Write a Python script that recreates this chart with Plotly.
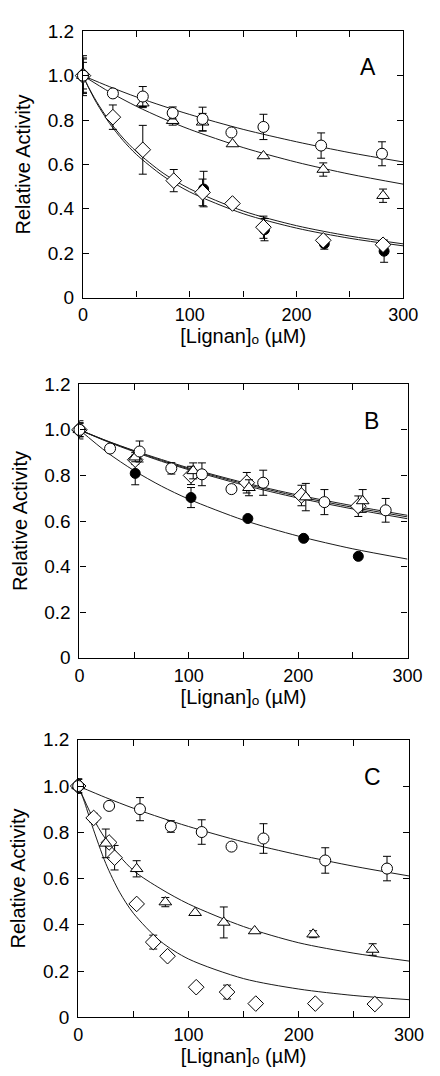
import plotly.graph_objects as go

# ---------------- Panel A data ----------------
a_circ_x = [0, 28, 56, 84, 112, 139, 169, 223, 280]
a_circ_y = [1.0, 0.920, 0.906, 0.832, 0.805, 0.744, 0.769, 0.685, 0.648]
a_circ_e = [0.09, 0, 0.045, 0.027, 0.053, 0, 0.057, 0.057, 0.054]

a_tri_x = [0, 56, 84, 112, 140, 169, 225, 281]
a_tri_y = [1.0, 0.876, 0.797, 0.79, 0.692, 0.638, 0.577, 0.459]
a_tri_e = [0.075, 0.02, 0.02, 0.04, 0, 0, 0.03, 0.03]

a_dia_x = [0, 28, 56, 85, 112, 140, 169, 225, 281]
a_dia_y = [1.0, 0.813, 0.666, 0.527, 0.474, 0.424, 0.317, 0.258, 0.238]
a_dia_e = [0.08, 0.055, 0.11, 0.05, 0.06, 0, 0.05, 0, 0.02]

a_fil_x = [0, 113, 170, 226, 282]
a_fil_y = [1.0, 0.489, 0.306, 0.243, 0.209]
a_fil_e = [0.06, 0.08, 0.05, 0.025, 0.05]

a_fit_x = [0, 25, 50, 75, 100, 150, 200, 250, 300]
a_fit_circ = [1.0, 0.950, 0.904, 0.863, 0.825, 0.758, 0.702, 0.653, 0.611]
a_fit_tri = [1.0, 0.926, 0.862, 0.807, 0.758, 0.676, 0.610, 0.556, 0.511]
a_fit2_x = [0, 5, 12.5, 25, 37.5, 50, 75, 100, 150, 200, 250, 300]
a_fit_dia = [1.0, 0.950, 0.885, 0.793, 0.719, 0.658, 0.561, 0.490, 0.390, 0.324, 0.277, 0.242]
a_fit_fil = [1.0, 0.948, 0.879, 0.784, 0.708, 0.645, 0.548, 0.476, 0.378, 0.313, 0.267, 0.233]

# ---------------- Panel B data ----------------
b_circ_x = [0, 28, 55, 84, 112, 139, 168, 224, 280]
b_circ_y = [1.0, 0.918, 0.905, 0.831, 0.805, 0.740, 0.768, 0.683, 0.647]
b_circ_e = [0.04, 0, 0.046, 0.025, 0.05, 0, 0.055, 0.055, 0.052]

b_fil_x = [0, 51, 102, 154, 205, 255]
b_fil_y = [1.0, 0.809, 0.703, 0.611, 0.524, 0.445]
b_fil_e = [0.03, 0.05, 0.044, 0, 0, 0]

b_tri_x = [0, 51, 104, 155, 207, 259]
b_tri_y = [1.0, 0.88, 0.820, 0.746, 0.705, 0.688]
b_tri_e = [0.03, 0.02, 0.035, 0.035, 0.06, 0.05]

b_dia_x = [0, 51, 102, 153, 203, 255]
b_dia_y = [1.0, 0.869, 0.800, 0.768, 0.712, 0.665]
b_dia_e = [0.03, 0.02, 0.04, 0.045, 0.045, 0.045]

b_fit_x = [0, 25, 50, 75, 100, 150, 200, 250, 300]
b_fit_circ = [1.0, 0.952, 0.909, 0.870, 0.833, 0.769, 0.714, 0.667, 0.625]
b_fit_tri = [1.0, 0.951, 0.907, 0.866, 0.829, 0.764, 0.708, 0.660, 0.618]
b_fit_dia = [1.0, 0.949, 0.904, 0.862, 0.825, 0.758, 0.701, 0.653, 0.610]
b_fit_fil = [1.0, 0.902, 0.821, 0.753, 0.696, 0.604, 0.534, 0.478, 0.433]

# ---------------- Panel C data ----------------
c_circ_x = [0, 28, 56, 84, 112, 139, 168, 224, 280]
c_circ_y = [1.0, 0.914, 0.900, 0.825, 0.801, 0.738, 0.773, 0.678, 0.643]
c_circ_e = [0.03, 0, 0.05, 0.025, 0.053, 0, 0.064, 0.055, 0.053]

c_tri_x = [0, 25, 53, 79, 106, 132, 160, 213, 267]
c_tri_y = [1.0, 0.752, 0.642, 0.498, 0.452, 0.41, 0.373, 0.359, 0.293]
c_tri_e = [0.03, 0.062, 0.035, 0.02, 0, 0.067, 0, 0.015, 0.025]

c_dia_x = [0, 14, 28, 33, 53, 68, 81, 107, 135, 161, 215, 269]
c_dia_y = [1.0, 0.862, 0.756, 0.690, 0.490, 0.325, 0.264, 0.130, 0.109, 0.059, 0.059, 0.057]
c_dia_e = [0.03, 0.02, 0, 0.053, 0, 0.03, 0, 0, 0.03, 0, 0, 0]

c_fit_x = [0, 25, 50, 75, 100, 150, 200, 250, 300]
c_fit_circ = [1.0, 0.950, 0.904, 0.863, 0.825, 0.758, 0.702, 0.653, 0.611]
c_fit2_x = [0, 12.5, 25, 50, 75, 100, 150, 200, 250, 300]
c_fit_tri = [1.0, 0.87, 0.77, 0.635, 0.555, 0.49, 0.392, 0.322, 0.277, 0.243]
c_fit3_x = [0, 5, 12.5, 25, 37.5, 50, 75, 100, 150, 200, 250, 300]
c_fit_dia = [1.0, 0.94, 0.83, 0.665, 0.541, 0.45, 0.327, 0.252, 0.167, 0.122, 0.094, 0.076]

x_ticks = [0, 100, 200, 300]
x_minor_ticks = [50, 150, 250]
y_ticks = [0, 0.2, 0.4, 0.6, 0.8, 1.0, 1.2]
y_ticktext = ["0", "0.2", "0.4", "0.6", "0.8", "1.0", "1.2"]
panel_labels = ["A", "B", "C"]
x_title = "[Lignan]ₒ (µM)"
y_title = "Relative Activity"

FONT = "Liberation Sans, Arial, Helvetica, DejaVu Sans, sans-serif"
fig = go.Figure()

def curve(x, y, ax):
    fig.add_trace(go.Scatter(x=x, y=y, mode="lines",
                             line=dict(color="#1a1a1a", width=1, shape="spline", smoothing=0.8),
                             xaxis="x" + ax, yaxis="y" + ax, hoverinfo="skip", showlegend=False))

def points(x, y, e, symbol, fill, size, ax):
    xe = [a for a, b in zip(x, e) if b > 0]
    ye = [a for a, b in zip(y, e) if b > 0]
    ee = [b for b in e if b > 0]
    xn = [a for a, b in zip(x, e) if b <= 0]
    yn = [a for a, b in zip(y, e) if b <= 0]
    mk = dict(symbol=symbol, size=size, color=fill, line=dict(color="black", width=1))
    if xe:
        fig.add_trace(go.Scatter(x=xe, y=ye, mode="markers", marker=mk, cliponaxis=False,
                                 error_y=dict(type="data", array=ee, color="black", thickness=1, width=4),
                                 xaxis="x" + ax, yaxis="y" + ax, showlegend=False))
    if xn:
        fig.add_trace(go.Scatter(x=xn, y=yn, mode="markers", marker=mk, cliponaxis=False,
                                 xaxis="x" + ax, yaxis="y" + ax, showlegend=False))

# Panel A (axis suffix "")
for y in [a_fit_circ, a_fit_tri]:
    curve(a_fit_x, y, "")
for y in [a_fit_dia, a_fit_fil]:
    curve(a_fit2_x, y, "")
points(a_fil_x, a_fil_y, a_fil_e, "circle", "black", 10, "")
points(a_tri_x, a_tri_y, a_tri_e, "triangle-up", "white", 11, "")
points(a_dia_x, a_dia_y, a_dia_e, "diamond", "white", 12, "")
points(a_circ_x, a_circ_y, a_circ_e, "circle", "white", 11, "")

# Panel B
for y in [b_fit_circ, b_fit_tri, b_fit_dia, b_fit_fil]:
    curve(b_fit_x, y, "2")
points(b_fil_x, b_fil_y, b_fil_e, "circle", "black", 10, "2")
points(b_dia_x, b_dia_y, b_dia_e, "diamond", "white", 12, "2")
points(b_tri_x, b_tri_y, b_tri_e, "triangle-up", "white", 11, "2")
points(b_circ_x, b_circ_y, b_circ_e, "circle", "white", 11, "2")

# Panel C
curve(c_fit_x, c_fit_circ, "3")
curve(c_fit2_x, c_fit_tri, "3")
curve(c_fit3_x, c_fit_dia, "3")
points(c_dia_x, c_dia_y, c_dia_e, "diamond", "white", 12, "3")
points(c_tri_x, c_tri_y, c_tri_e, "triangle-up", "white", 11, "3")
points(c_circ_x, c_circ_y, c_circ_e, "circle", "white", 11, "3")

W, H = 440, 1076
panels = [  # left, right, top, bottom in px
    (81.7, 417.3, 21.7, 293.3),
    (78.0, 421.7, 381.7, 660.7),
    (76.7, 423.3, 744.3, 1027.3),
]
suffixes = ["", "2", "3"]
layout = dict(width=W, height=H, autosize=False, margin=dict(l=0, r=0, t=0, b=0),
              paper_bgcolor="white", plot_bgcolor="white",
              font=dict(family=FONT, color="black", size=18), showlegend=False)
annotations = []
for (l, r, t, b), s, lab in zip(panels, suffixes, panel_labels):
    xa = dict(domain=[l / W, r / W], range=[0, 300], anchor="y" + s,
              tickmode="array", tickvals=x_ticks,
              ticks="inside", ticklen=6, tickwidth=1, tickcolor="black",
              minor=dict(tickmode="array", tickvals=x_minor_ticks, ticks="inside", ticklen=6,
                         tickwidth=1, tickcolor="black", showgrid=False),
              showline=True, linecolor="black", linewidth=1.2, mirror="allticks",
              showgrid=False, zeroline=False, tickfont=dict(size=18), ticklabelstandoff=1,
              title=dict(text=x_title, font=dict(size=20), standoff=2))
    ya = dict(domain=[1 - b / H, 1 - t / H], range=[0, 1.2], anchor="x" + s,
              tickmode="array", tickvals=y_ticks, ticktext=y_ticktext,
              ticks="inside", ticklen=6, tickwidth=1, tickcolor="black",
              showline=True, linecolor="black", linewidth=1.2, mirror="allticks",
              showgrid=False, zeroline=False, tickfont=dict(size=19), ticklabelstandoff=4,
              title=dict(text=y_title, font=dict(size=20), standoff=11))
    layout["xaxis" + s] = xa
    layout["yaxis" + s] = ya
    annotations.append(dict(text=lab, x=267, y=1.04, xref="x" + s, yref="y" + s,
                            showarrow=False, font=dict(size=23, family=FONT),
                            xanchor="center", yanchor="middle"))
layout["annotations"] = annotations
fig.update_layout(**layout)
fig.write_html("out.html", config={"displayModeBar": False},
               post_script="document.body.style.margin='0';document.body.style.overflow='hidden';")
